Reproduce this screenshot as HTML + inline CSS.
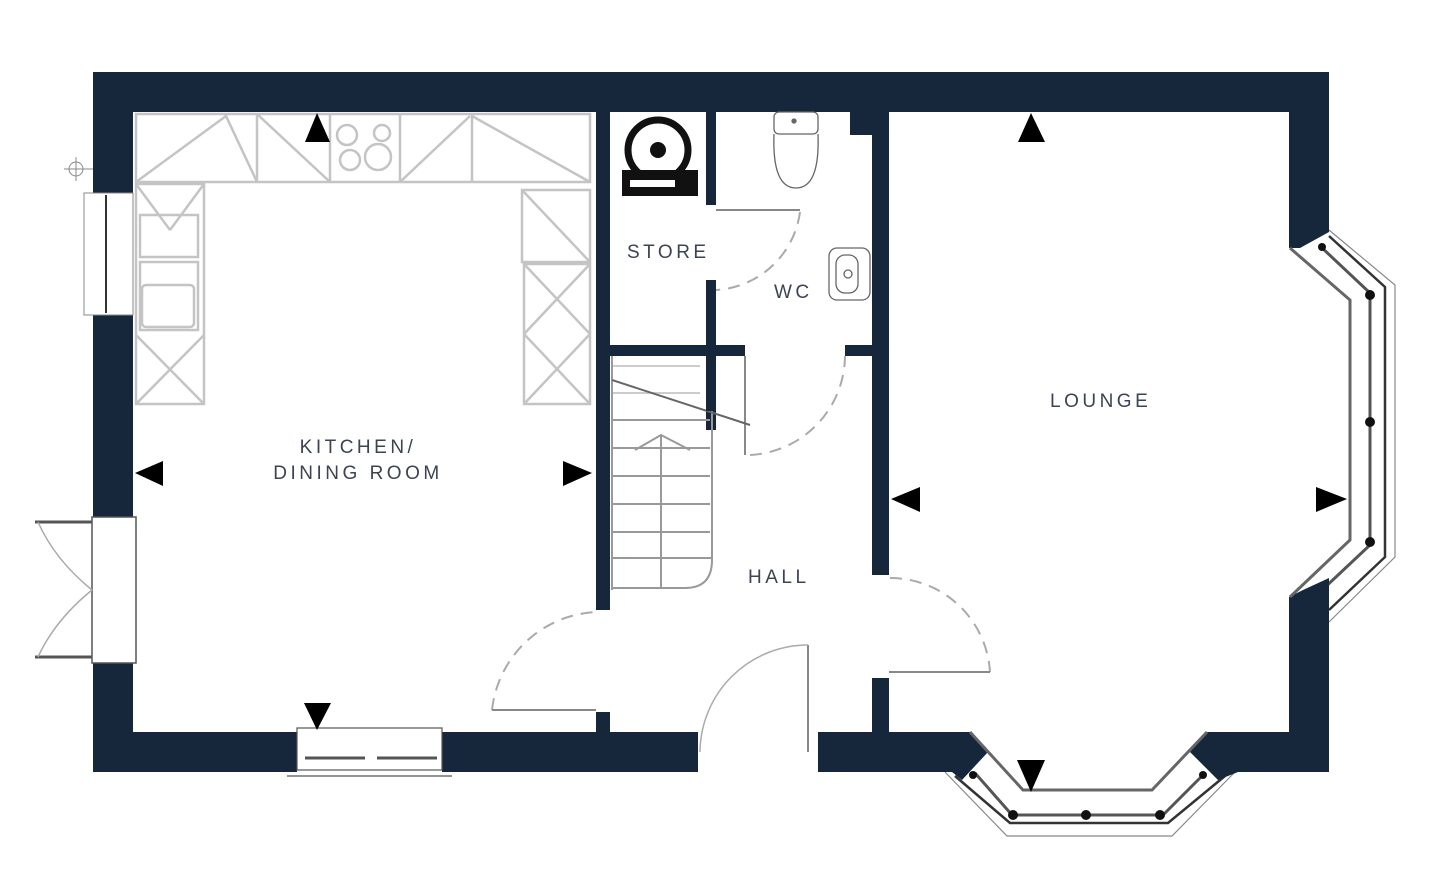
<!DOCTYPE html>
<html><head><meta charset="utf-8"><style>
html,body{margin:0;padding:0;background:#fff;}
svg{display:block}
text{font-family:"Liberation Sans",sans-serif;fill:#3c4452;font-size:19px;letter-spacing:3.5px}
</style></head><body>
<svg width="1439" height="891" viewBox="0 0 1439 891" xmlns="http://www.w3.org/2000/svg">
<!-- bay window lines (behind walls) -->
<g fill="none" stroke="#888" stroke-width="1.2">
<polyline points="1329,230 1395,285 1395,557 1329,622"/>
<polyline points="945,772 1007,836 1172,836 1235,772"/>
</g>
<g fill="none" stroke="#333" stroke-width="2.5">
<polyline points="1329,236 1385,287 1385,557 1329,610"/>
<polyline points="955,776 1010,823 1168,823 1225,776"/>
</g>
<g fill="none" stroke="#555" stroke-width="3">
<polyline points="1320,246 1370,293 1370,545 1320,592"/>
<polyline points="975,773 1012,815 1163,815 1205,773"/>
</g>
<g fill="#111">
<circle cx="1322" cy="247" r="4"/><circle cx="1370" cy="295" r="5"/><circle cx="1370" cy="422" r="5"/><circle cx="1370" cy="542" r="5"/><circle cx="1322" cy="590" r="4"/>
<circle cx="973" cy="775" r="4"/><circle cx="1013" cy="815" r="5"/><circle cx="1086" cy="815" r="5"/><circle cx="1160" cy="815" r="5"/><circle cx="1203" cy="775" r="4"/>
</g>
<g fill="#16263b">
<!-- top wall -->
<rect x="93" y="72" width="1236" height="40"/>
<!-- left wall -->
<rect x="93" y="72" width="40" height="121"/>
<rect x="93" y="315" width="40" height="202"/>
<rect x="93" y="663" width="40" height="109"/>
<!-- bottom wall -->
<rect x="93" y="732" width="204" height="40"/>
<rect x="442" y="732" width="256" height="40"/>
<polygon points="818,732 970,732 988,752 962,780 952,772 818,772"/>
<polygon points="1207,732 1329,732 1329,772 1238,772 1218,780 1190,752"/>
<!-- right wall -->
<polygon points="1289,72 1329,72 1329,232 1300,248 1289,248"/>
<polygon points="1289,597 1303,590 1329,578 1329,772 1289,772"/>
<!-- interior walls -->
<rect x="596" y="112" width="14" height="498"/>
<rect x="706" y="112" width="10" height="93"/>
<rect x="706" y="280" width="10" height="150"/>
<rect x="610" y="345" width="135" height="11"/>
<rect x="872" y="112" width="17" height="463"/>
<rect x="850" y="112" width="22" height="23"/>
<rect x="845" y="345" width="27" height="11"/>
<rect x="872" y="678" width="17" height="54"/>
<rect x="596" y="712" width="14" height="20"/>
</g>
<!-- inner bay room edges -->
<g fill="none" stroke="#666" stroke-width="3">
<polyline points="1290,248 1350,300 1350,540 1290,597"/>
<polyline points="970,732 1023,790 1152,790 1207,732"/>
</g>
<!-- kitchen units -->
<g fill="none" stroke="#c4c4c4" stroke-width="2.5">
<rect x="136" y="114" width="454" height="68"/>
<line x1="257" y1="114" x2="257" y2="182"/><line x1="330" y1="114" x2="330" y2="182"/>
<line x1="400" y1="114" x2="400" y2="182"/><line x1="472" y1="114" x2="472" y2="182"/>
<polyline points="136,182 226,116 257,182"/><polyline points="257,114 330,182"/>
<polyline points="400,182 470,116"/><polyline points="472,116 590,182"/>
<circle cx="347" cy="135" r="10"/><circle cx="382" cy="133" r="8"/><circle cx="350" cy="160" r="10"/><circle cx="378" cy="157" r="13"/>
<rect x="136" y="184" width="68" height="220"/>
<rect x="140" y="215" width="58" height="42"/>
<rect x="140" y="262" width="58" height="68"/>
<rect x="142" y="285" width="52" height="42" rx="4"/>
<line x1="136" y1="335" x2="204" y2="404"/><line x1="204" y1="335" x2="136" y2="404"/>
<line x1="136" y1="184" x2="170" y2="230"/><line x1="204" y1="184" x2="170" y2="230"/>
<rect x="522" y="190" width="68" height="72"/>
<line x1="522" y1="190" x2="590" y2="262"/>
<rect x="524" y="264" width="66" height="140"/>
<line x1="524" y1="264" x2="590" y2="334"/><line x1="590" y1="264" x2="524" y2="334"/>
<line x1="524" y1="334" x2="590" y2="404"/><line x1="590" y1="334" x2="524" y2="404"/>
</g>
<!-- left window -->
<g fill="none" stroke="#888" stroke-width="1">
<rect x="84" y="193" width="49" height="122"/>
<line x1="106" y1="195" x2="106" y2="313" stroke="#333" stroke-width="2"/>
<circle cx="76" cy="169" r="7"/><line x1="64" y1="169" x2="93" y2="169"/><line x1="76" y1="157" x2="76" y2="181"/>
</g>
<!-- left door -->
<g fill="none" stroke="#555" stroke-width="1.5">
<rect x="92" y="517" width="44" height="146"/>
<line x1="35" y1="522" x2="92" y2="522" stroke-width="3"/>
<line x1="35" y1="657" x2="92" y2="657" stroke-width="3"/>
<path d="M38,522 Q55,560 92,590 M38,657 Q55,620 92,590" stroke="#aaa"/>
</g>
<!-- bottom window -->
<g fill="none" stroke="#555" stroke-width="1.2">
<rect x="297" y="728" width="145" height="42"/>
<line x1="287" y1="776" x2="452" y2="776"/>
<line x1="305" y1="758" x2="365" y2="758" stroke-width="3"/>
<line x1="377" y1="758" x2="437" y2="758" stroke-width="3"/>
</g>
<!-- doors -->
<g fill="none" stroke="#aaa" stroke-width="2" stroke-dasharray="12,8">
<path d="M492,710 A110,110 0 0 1 596,612"/>
<path d="M800,212 A90,90 0 0 1 716,290"/>
<path d="M750,455 A100,100 0 0 0 845,356"/>
<path d="M890,578 A100,100 0 0 1 990,672"/>
</g>
<g fill="none" stroke="#888" stroke-width="2">
<line x1="492" y1="710" x2="596" y2="710"/>
<line x1="716" y1="210" x2="800" y2="210"/>
<line x1="745" y1="356" x2="745" y2="455"/>
<line x1="889" y1="672" x2="990" y2="672"/>
<line x1="808" y1="645" x2="808" y2="752"/>
<path d="M700,752 A108,108 0 0 1 808,645" stroke="#aaa" stroke-width="1.5"/>
</g>
<!-- stairs -->
<g fill="none" stroke="#999" stroke-width="2">
<line x1="613" y1="366" x2="700" y2="366" stroke="#ccc"/><line x1="613" y1="393" x2="700" y2="393" stroke="#ccc"/>
<line x1="613" y1="420" x2="710" y2="420"/><line x1="613" y1="448" x2="710" y2="448"/>
<line x1="613" y1="476" x2="710" y2="476"/><line x1="613" y1="504" x2="710" y2="504"/>
<line x1="613" y1="532" x2="710" y2="532"/><line x1="613" y1="558" x2="712" y2="558"/>
<line x1="612" y1="356" x2="612" y2="590"/><line x1="661" y1="435" x2="661" y2="588"/>
<path d="M712,410 V560 Q712,588 685,588 H612"/>
<polyline points="635,450 661,435 690,450"/>
<line x1="612" y1="380" x2="750" y2="425" stroke="#666"/>
</g>
<rect x="706" y="356" width="8" height="55" fill="#16263b"/>
<!-- boiler -->
<circle cx="658" cy="150" r="30" fill="#fff" stroke="#111" stroke-width="7"/>
<circle cx="658" cy="150" r="8" fill="#111"/>
<rect x="622" y="170" width="76" height="26" fill="#111"/>
<rect x="630" y="180" width="45" height="7" fill="#fff"/>
<!-- WC -->
<g fill="none" stroke="#666" stroke-width="1.3">
<rect x="774" y="112" width="44" height="22" rx="5"/>
<path d="M774,134 Q772,188 796,188 Q820,188 818,134"/>
<circle cx="794" cy="121" r="2" fill="#666"/>
<rect x="829" y="248" width="41" height="52" rx="8"/>
<rect x="836" y="255" width="22" height="38" rx="9"/>
<circle cx="848" cy="274" r="4"/>
</g>
<!-- arrows -->
<g fill="#000">
<polygon points="317,113 305,142 330,142"/>
<polygon points="135,473 163,461 163,486"/>
<polygon points="592,473 563,461 563,486"/>
<polygon points="317,730 304,703 331,703"/>
<polygon points="1031,113 1018,142 1045,142"/>
<polygon points="891,499 920,487 920,512"/>
<polygon points="1347,499 1316,487 1316,512"/>
<polygon points="1031,792 1017,760 1045,760"/>
</g>
<text x="358" y="453" text-anchor="middle">KITCHEN/</text>
<text x="358" y="479" text-anchor="middle">DINING ROOM</text>
<text x="627" y="258">STORE</text>
<text x="774" y="298">WC</text>
<text x="1050" y="407">LOUNGE</text>
<text x="748" y="583">HALL</text>
</svg>
</body></html>
